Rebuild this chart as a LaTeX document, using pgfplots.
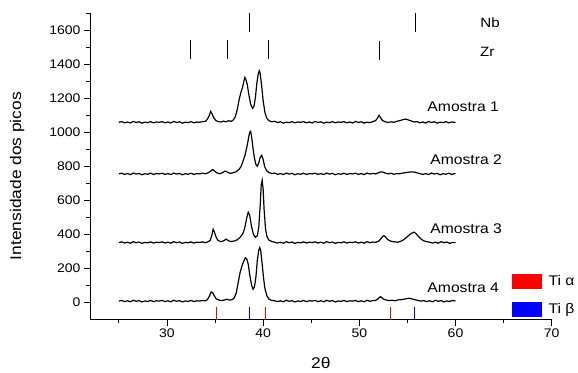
\documentclass[border=0pt]{standalone}
\usepackage{fontspec}
\setmainfont{Liberation Sans}[FakeStretch=1.12]
\usepackage{pgfplots}
\pgfplotsset{compat=1.18}
\begin{document}
\begin{tikzpicture}
\path[use as bounding box] (-90pt,-52.5pt) rectangle (488pt,319.5pt);
\begin{axis}[
  scale only axis, width=461.7pt, height=306.5pt,
  xmin=22, xmax=70, ymin=-100, ymax=1700,
  axis x line*=bottom, axis y line*=left,
  axis line style={line width=0.8pt},
  xtick={30,40,50,60,70}, minor xtick={25,35,45,55,65},
  ytick={0,200,400,600,800,1000,1200,1400,1600},
  minor ytick={100,300,500,700,900,1100,1300,1500,1700},
  tick align=outside, major tick length=6pt, minor tick length=3.5pt,
  every tick/.style={black, line width=0.8pt},
  /pgf/number format/assume math mode=true,
  /pgf/number format/1000 sep={},
  tick label style={font=\fontsize{12.5}{13}\selectfont},
  xlabel={2θ}, ylabel={Intensidade dos picos},
  every axis x label/.style={at={(axis description cs:0.5,0)}, anchor=center, yshift=-43.5pt, font=\fontsize{15.5}{16}\selectfont},
  every axis y label/.style={at={(axis description cs:-0.158,0.468)}, anchor=center, rotate=90, font=\fontsize{15.5}{16}\selectfont},
  clip=false,
  legend style={draw=none, fill=none, at={(axis cs:65.8,170)}, anchor=north west, inner sep=0pt, row sep=12pt, font=\fontsize{14}{14}\selectfont,
    /tikz/every odd column/.style={column sep=5pt}},
  legend cell align=left,
  legend image code/.code={\fill (0pt,-7pt) rectangle (29pt,7pt);},
]
% Ti alpha / Ti beta reference lines
\addplot[color=red, line width=1pt, unbounded coords=jump] coordinates {(35.15,-100) (35.15,-25) (35.15,nan) (40.2,-100) (40.2,-25) (40.2,nan) (53.2,-100) (53.2,-25)};
\addlegendentry{Ti α}
\addplot[color=blue, line width=1pt, unbounded coords=jump] coordinates {(38.55,-100) (38.55,-25) (38.55,nan) (55.75,-100) (55.75,-25)};
\addlegendentry{Ti β}
% Nb and Zr markers
\addplot[forget plot, black, line width=0.6pt, unbounded coords=jump] coordinates {(38.55,1590) (38.55,1700) (38.55,nan) (55.8,1590) (55.8,1700)};
\addplot[forget plot, black, line width=0.6pt, unbounded coords=jump] coordinates {(32.4,1432) (32.4,1540) (32.4,nan) (36.3,1432) (36.3,1540) (36.3,nan) (40.5,1432) (40.5,1540) (40.5,nan) (52.1,1425) (52.1,1535)};
% Amostra 1
\addplot[forget plot, black, line width=1.2pt] coordinates {
(25.0,1058) (25.3,1062) (25.6,1055) (25.9,1060) (26.2,1054) (26.5,1063) (26.8,1057) (27.1,1061) (27.4,1053) (27.7,1059)
(28.0,1056) (28.3,1062) (28.6,1055) (28.9,1060) (29.2,1058) (29.5,1062) (29.8,1055) (30.1,1060) (30.4,1054) (30.7,1063)
(31.0,1057) (31.3,1061) (31.6,1053) (31.9,1059) (32.2,1056) (32.5,1062) (32.8,1055) (33.1,1060) (33.4,1058) (33.7,1062)
(34.0,1064) (34.2,1076) (34.4,1098) (34.55,1122) (34.7,1106) (34.9,1082) (35.1,1068) (35.3,1063) (35.6,1060) (35.9,1065)
(36.1,1061) (36.4,1067) (36.7,1064) (36.9,1072) (37.1,1090) (37.3,1130) (37.5,1190) (37.7,1236) (37.85,1262) (38.0,1300)
(38.1,1322) (38.2,1310) (38.35,1280) (38.5,1225) (38.7,1165) (38.9,1140) (39.05,1152) (39.2,1205) (39.35,1290) (39.5,1345)
(39.6,1360) (39.7,1342) (39.85,1270) (40.0,1185) (40.2,1112) (40.4,1080) (40.6,1068) (40.9,1061) (41.2,1064) (41.5,1057)
(41.8,1061) (42.1,1053) (42.4,1059) (42.7,1056) (43.0,1062) (43.3,1055) (43.6,1060) (43.9,1058) (44.2,1062) (44.5,1055)
(44.8,1060) (45.1,1054) (45.4,1063) (45.7,1057) (46.0,1061) (46.3,1053) (46.6,1059) (46.9,1056) (47.2,1062) (47.5,1055)
(47.8,1060) (48.1,1058) (48.4,1062) (48.7,1055) (49.0,1060) (49.3,1054) (49.6,1063) (49.9,1057) (50.2,1061) (50.5,1053)
(50.8,1059) (51.1,1056) (51.4,1062) (51.7,1068) (51.9,1084) (52.05,1099) (52.2,1086) (52.4,1069) (52.7,1061) (53.0,1057)
(53.3,1061) (53.6,1058) (53.9,1064) (54.2,1068) (54.5,1073) (54.8,1077) (55.1,1072) (55.4,1066) (55.7,1060) (56.0,1062)
(56.3,1055) (56.6,1060) (56.9,1054) (57.2,1063) (57.5,1057) (57.8,1061) (58.1,1053) (58.4,1059) (58.7,1056) (59.0,1062)
(59.3,1055) (59.6,1060) (59.9,1058) (60.0,1056)
};
% Amostra 2
\addplot[forget plot, black, line width=1.2pt] coordinates {
(25.0,755) (25.3,759) (25.6,752) (25.9,757) (26.2,751) (26.5,760) (26.8,754) (27.1,758) (27.4,750) (27.7,756)
(28.0,753) (28.3,759) (28.6,752) (28.9,757) (29.2,755) (29.5,759) (29.8,752) (30.1,757) (30.4,751) (30.7,760)
(31.0,754) (31.3,758) (31.6,750) (31.9,756) (32.2,753) (32.5,759) (32.8,752) (33.1,757) (33.4,755) (33.7,759)
(34.0,756) (34.3,762) (34.55,772) (34.75,781) (34.95,772) (35.2,761) (35.5,756) (35.8,763) (36.05,772) (36.3,765)
(36.6,758) (36.9,762) (37.2,768) (37.5,782) (37.7,798) (37.9,828) (38.1,862) (38.3,910) (38.45,955) (38.6,1000)
(38.7,1005) (38.8,975) (38.95,905) (39.1,845) (39.25,810) (39.4,800) (39.55,822) (39.7,852) (39.85,864) (40.0,840)
(40.15,800) (40.35,775) (40.6,763) (40.9,757) (41.2,760) (41.5,752) (41.8,757) (42.1,751) (42.4,760) (42.7,754)
(43.0,758) (43.3,750) (43.6,756) (43.9,753) (44.2,759) (44.5,752) (44.8,757) (45.1,755) (45.4,759) (45.7,752)
(46.0,757) (46.3,751) (46.6,760) (46.9,754) (47.2,758) (47.5,750) (47.8,756) (48.1,753) (48.4,759) (48.7,752)
(49.0,757) (49.3,755) (49.6,759) (49.9,752) (50.2,757) (50.5,751) (50.8,760) (51.1,754) (51.4,758) (51.7,755)
(52.0,762) (52.2,767) (52.4,766) (52.7,760) (53.0,755) (53.3,759) (53.6,753) (53.9,757) (54.2,756) (54.5,760)
(54.8,762) (55.1,765) (55.4,767) (55.7,766) (56.0,761) (56.3,757) (56.6,752) (56.9,757) (57.2,751) (57.5,760)
(57.8,754) (58.1,758) (58.4,750) (58.7,756) (59.0,753) (59.3,759) (59.6,752) (59.9,757) (60.0,755)
};
% Amostra 3
\addplot[forget plot, black, line width=1.2pt] coordinates {
(25.0,352) (25.3,356) (25.6,349) (25.9,354) (26.2,348) (26.5,357) (26.8,351) (27.1,355) (27.4,347) (27.7,353)
(28.0,350) (28.3,356) (28.6,349) (28.9,354) (29.2,352) (29.5,356) (29.8,349) (30.1,354) (30.4,348) (30.7,357)
(31.0,351) (31.3,355) (31.6,347) (31.9,353) (32.2,350) (32.5,356) (32.8,349) (33.1,354) (33.4,352) (33.7,356)
(34.0,351) (34.3,357) (34.5,365) (34.65,390) (34.8,430) (34.95,412) (35.1,385) (35.3,365) (35.6,357) (35.9,362)
(36.15,372) (36.4,362) (36.7,358) (37.0,361) (37.3,368) (37.6,382) (37.9,405) (38.1,440) (38.3,498) (38.45,530)
(38.6,512) (38.8,445) (39.0,398) (39.2,383) (39.4,392) (39.55,445) (39.7,575) (39.8,690) (39.9,718) (40.0,665)
(40.1,545) (40.25,432) (40.4,386) (40.6,366) (40.9,358) (41.2,354) (41.5,349) (41.8,354) (42.1,348) (42.4,357)
(42.7,351) (43.0,355) (43.3,347) (43.6,353) (43.9,350) (44.2,356) (44.5,349) (44.8,354) (45.1,352) (45.4,356)
(45.7,349) (46.0,354) (46.3,348) (46.6,357) (46.9,351) (47.2,355) (47.5,347) (47.8,353) (48.1,350) (48.4,356)
(48.7,349) (49.0,354) (49.3,352) (49.6,356) (49.9,349) (50.2,354) (50.5,348) (50.8,357) (51.1,351) (51.4,355)
(51.7,353) (52.0,360) (52.2,372) (52.4,386) (52.55,393) (52.7,386) (52.9,372) (53.1,364) (53.4,358) (53.7,356)
(54.0,354) (54.3,359) (54.6,368) (54.9,382) (55.2,397) (55.45,407) (55.7,413) (55.9,404) (56.1,390) (56.4,373)
(56.7,362) (57.0,357) (57.3,354) (57.6,349) (57.9,354) (58.2,348) (58.5,357) (58.8,351) (59.1,355) (59.4,347)
(59.7,353) (60.0,351)
};
% Amostra 4
\addplot[forget plot, black, line width=1.2pt] coordinates {
(25.0,8) (25.3,12) (25.6,5) (25.9,10) (26.2,4) (26.5,13) (26.8,7) (27.1,11) (27.4,3) (27.7,9)
(28.0,6) (28.3,12) (28.6,5) (28.9,10) (29.2,8) (29.5,12) (29.8,5) (30.1,10) (30.4,4) (30.7,13)
(31.0,7) (31.3,11) (31.6,3) (31.9,9) (32.2,6) (32.5,12) (32.8,5) (33.1,10) (33.4,8) (33.7,12)
(34.0,10) (34.2,16) (34.4,36) (34.6,62) (34.75,58) (34.9,42) (35.1,22) (35.4,14) (35.7,11) (36.0,15)
(36.2,19) (36.5,14) (36.8,17) (37.0,28) (37.2,55) (37.4,115) (37.6,175) (37.8,215) (38.0,245) (38.15,262)
(38.3,255) (38.45,225) (38.6,165) (38.8,102) (38.95,78) (39.1,92) (39.25,150) (39.4,250) (39.55,308) (39.65,322)
(39.75,305) (39.9,225) (40.05,140) (40.2,78) (40.4,38) (40.6,20) (40.9,12) (41.2,10) (41.5,5) (41.8,10)
(42.1,4) (42.4,13) (42.7,7) (43.0,11) (43.3,3) (43.6,9) (43.9,6) (44.2,12) (44.5,5) (44.8,10)
(45.1,8) (45.4,12) (45.7,5) (46.0,10) (46.3,4) (46.6,13) (46.9,7) (47.2,11) (47.5,3) (47.8,9)
(48.1,6) (48.4,12) (48.7,5) (49.0,10) (49.3,8) (49.6,12) (49.9,5) (50.2,10) (50.5,4) (50.8,13)
(51.1,7) (51.4,11) (51.7,12) (51.9,20) (52.05,28) (52.2,34) (52.35,28) (52.5,20) (52.8,14) (53.1,11)
(53.4,13) (53.7,10) (54.0,15) (54.3,16) (54.6,19) (54.9,22) (55.2,25) (55.5,20) (55.8,16) (56.1,12)
(56.4,8) (56.7,11) (57.0,5) (57.3,10) (57.6,4) (57.9,13) (58.2,7) (58.5,11) (58.8,3) (59.1,9)
(59.4,6) (59.7,12) (60.0,8)
};
% text labels
\node[font=\fontsize{13.5}{14}\selectfont] at (axis cs:63.6,1641) {Nb};
\node[font=\fontsize{13.5}{14}\selectfont] at (axis cs:63.3,1471) {Zr};
\node[font=\fontsize{14}{14}\selectfont] at (axis cs:60.8,1148) {Amostra 1};
\node[font=\fontsize{14}{14}\selectfont] at (axis cs:61.1,841) {Amostra 2};
\node[font=\fontsize{14}{14}\selectfont] at (axis cs:61.1,436) {Amostra 3};
\node[font=\fontsize{14}{14}\selectfont] at (axis cs:60.8,88) {Amostra 4};
\end{axis}
\end{tikzpicture}
\end{document}
